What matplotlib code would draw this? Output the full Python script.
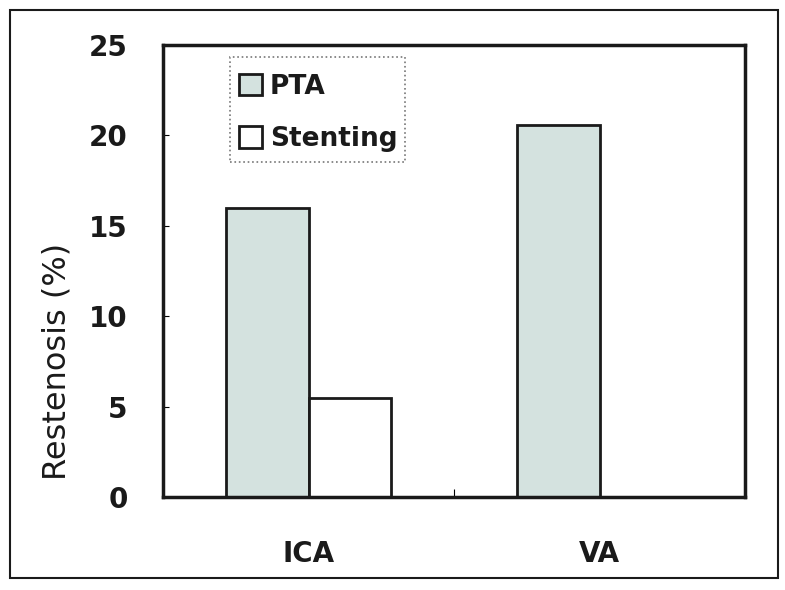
import numpy as np
import matplotlib
matplotlib.use("Agg")
import matplotlib.pyplot as plt
from matplotlib.patches import Rectangle

# Data
categories = ["ICA", "VA"]
pta = [16.0, 20.6]
stenting = [5.5, 0.0]
yticks = [0, 5, 10, 15, 20, 25]

bold_font = ["Liberation Sans Narrow", "DejaVu Sans"]
fill_color = "#d4e2df"

fig = plt.figure(figsize=(7.85, 5.9), dpi=100)
ax = fig.add_axes([163 / 785, 1 - 497 / 590, 582 / 785, 452 / 590])

# Outer border around the whole figure
fig.patches.append(Rectangle((10 / 785, 12 / 590), 768 / 785, 568 / 590,
                             transform=fig.transFigure, fill=False,
                             edgecolor="#1a1a1a", linewidth=1.5))

x = np.arange(len(categories))
w = 0.285
ax.bar(x, pta, width=-w, align="edge", color=fill_color, edgecolor="#1a1a1a",
       linewidth=2, label="PTA")
ax.bar(x, stenting, width=w, align="edge", color="white", edgecolor="#1a1a1a",
       linewidth=2, label="Stenting")

ax.set_xlim(-0.5, 1.5)
ax.set_ylim(0, 25)

for s in ax.spines.values():
    s.set_linewidth(2.5)
    s.set_color("#1a1a1a")

ax.set_yticks(yticks)
ax.set_yticklabels([str(t) for t in yticks], fontfamily=bold_font,
                   fontweight="bold", fontsize=20, color="#1a1a1a")
ax.tick_params(axis="y", direction="in", length=4, width=0.8, pad=25.5)

ax.set_xticks(x)
ax.set_xticklabels(categories, fontfamily=bold_font, fontweight="bold",
                   fontsize=20, color="#1a1a1a")
ax.tick_params(axis="x", length=0, pad=31)
ax.set_xticks([0.5], minor=True)
ax.tick_params(axis="x", which="minor", direction="in", length=6, width=0.8)

ax.set_ylabel("Restenosis (%)", fontsize=23, color="#1a1a1a")
ax.yaxis.set_label_coords(-0.155, 0.30)

# legend without its own frame, dotted box drawn separately
leg = ax.legend(loc="upper left", bbox_to_anchor=(0.131, 0.936),
                borderaxespad=0, borderpad=0,
                prop={"family": bold_font, "weight": "bold", "size": 19},
                frameon=False, handlelength=0.87, handleheight=0.87,
                handletextpad=0.3, labelspacing=1.0)
for t in leg.get_texts():
    t.set_color("#1a1a1a")
ax.add_patch(Rectangle((0.115, 0.742), 0.301, 0.231, transform=ax.transAxes,
                       fill=False, edgecolor="#777777", linestyle=":",
                       linewidth=1.2, zorder=5))

fig.savefig("out.png", dpi=100)
